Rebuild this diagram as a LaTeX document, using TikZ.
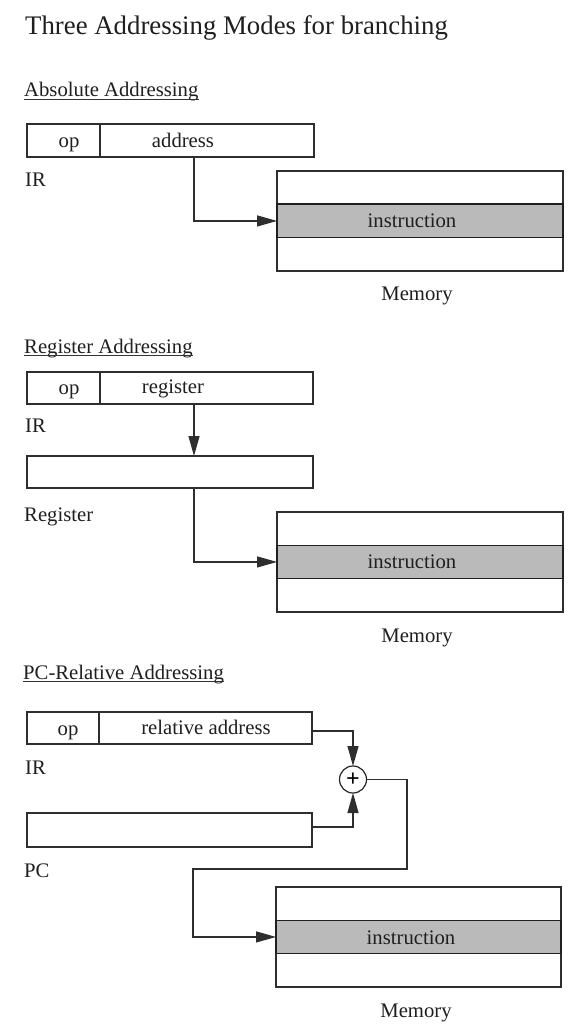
\documentclass[tikz,border=0pt]{standalone}
\usepackage{fontspec}
\setmainfont{Liberation Serif}
\usetikzlibrary{arrows.meta,calc}
\begin{document}
\begin{tikzpicture}[x=1pt,y=-1pt,
  txt/.style={font=\fontsize{20.7pt}{24pt}\selectfont, inner sep=0pt, text=black!88},
  hdr/.style={txt},
  field/.style={draw=black!82, line width=1.3pt, rectangle, inner sep=0pt, outer sep=0pt, anchor=north west},
  memrow/.style={field, minimum width=286pt, minimum height=33.3pt},
  graycell/.style={memrow, fill=black!27, draw=black!88, line width=1.6pt},
  conn/.style={draw=black!82, line width=1.2pt},
  arr/.style={conn, -{Triangle[length=20pt,width=11pt]}},
  ulinestyle/.style={draw=black!80, line width=0.8pt},
  adder/.style={circle, draw=black!85, line width=1.2pt, minimum size=27pt, inner sep=0pt, outer sep=0pt,
    font=\fontsize{24pt}{24pt}\selectfont\bfseries}
]
\fill[white] (0,0) rectangle (577,1024);
\useasboundingbox (0,0) rectangle (577,1024);

% Title
\node[txt, font=\fontsize{26.8pt}{30pt}\selectfont, anchor=base west] (title) at (25,35) {Three Addressing Modes for branching};

% ---------- Absolute Addressing ----------
\node[hdr, anchor=base west] (h1) at (24,97) {Absolute Addressing};
\draw[ulinestyle] ([yshift=-2pt]h1.base west) -- ([yshift=-2pt]h1.base east);

\node[field, minimum width=73pt, minimum height=33pt] (op1) at (27,124) {};
\node[field, minimum width=214pt, minimum height=33pt] (f1) at (100,124) {};
\node[txt, anchor=base] (op1t) at (69,148) {op};
\node[txt, anchor=base] (f1t) at (183,148) {address};
\node[txt, anchor=base west] (ir1) at (25,187) {IR};

\node[memrow] (m1a) at (277,171) {};
\node[memrow] (m1c) at (277,237.6) {};
\node[graycell] (m1b) at (m1a.south west) {};
\node[txt, anchor=base] (m1t) at (412,227) {instruction};
\node[txt, anchor=base] (mem1) at (417,300) {Memory};

\draw[arr] ([xshift=-13pt]f1.south) |- (m1b.west);

% ---------- Register Addressing ----------
\node[hdr, anchor=base west] (h2) at (24,353) {Register Addressing};
\draw[ulinestyle] ([yshift=-2pt]h2.base west) -- ([yshift=-2pt]h2.base east);

\node[field, minimum width=73pt, minimum height=32pt] (op2) at (27,372) {};
\node[field, minimum width=213pt, minimum height=32pt] (f2) at (100,372) {};
\node[txt, anchor=base] (op2t) at (69,394) {op};
\node[txt, anchor=base] (f2t) at (173,393) {register};
\node[txt, anchor=base west] (ir2) at (25,432) {IR};

\node[field, minimum width=286pt, minimum height=32pt] (rb) at (27,456) {};
\node[txt, anchor=base west] (rbl) at (24,521) {Register};

\node[memrow] (m2a) at (277,512) {};
\node[memrow] (m2c) at (277,578.6) {};
\node[graycell] (m2b) at (m2a.south west) {};
\node[txt, anchor=base] (m2t) at (412,568) {instruction};
\node[txt, anchor=base] (mem2) at (417,642) {Memory};

\draw[arr] ([xshift=-12.5pt]f2.south) -- ([xshift=-12.5pt]f2.south |- rb.north);
\draw[arr] ([xshift=-12.5pt]f2.south |- rb.south) |- (m2b.west);

% ---------- PC-Relative Addressing ----------
\node[hdr, anchor=base west] (h3) at (23,679) {PC-Relative Addressing};
\draw[ulinestyle] ([yshift=-2pt]h3.base west) -- ([yshift=-2pt]h3.base east);

\node[field, minimum width=72pt, minimum height=32pt] (op3) at (27,712) {};
\node[field, minimum width=213pt, minimum height=32pt] (f3) at (99,712) {};
\node[txt, anchor=base] (op3t) at (68,735) {op};
\node[txt, anchor=base] (f3t) at (206,734) {relative address};
\node[txt, anchor=base west] (ir3) at (25,774) {IR};

\node[field, minimum width=285pt, minimum height=34pt] (pc) at (27,813) {};
\node[txt, anchor=base west] (pcl) at (24,877) {PC};

\node[adder] (plus) at (353,779.5) {+};

\node[memrow, minimum width=285pt] (m3a) at (276,887) {};
\node[memrow, minimum width=285pt] (m3c) at (276,953.6) {};
\node[graycell, minimum width=285pt] (m3b) at (m3a.south west) {};
\node[txt, anchor=base] (m3t) at (411,944) {instruction};
\node[txt, anchor=base] (mem3) at (416,1017) {Memory};

\coordinate (k1) at (407,869);
\coordinate (k2) at (193,869);

\draw[arr] ([yshift=-3pt]f3.east) -| (plus.north);
\draw[arr] ([yshift=3pt]pc.east) -| (plus.south);
\draw[arr] (plus.east) -| (k1) -- (k2) |- (m3b.west);

\end{tikzpicture}
\end{document}
